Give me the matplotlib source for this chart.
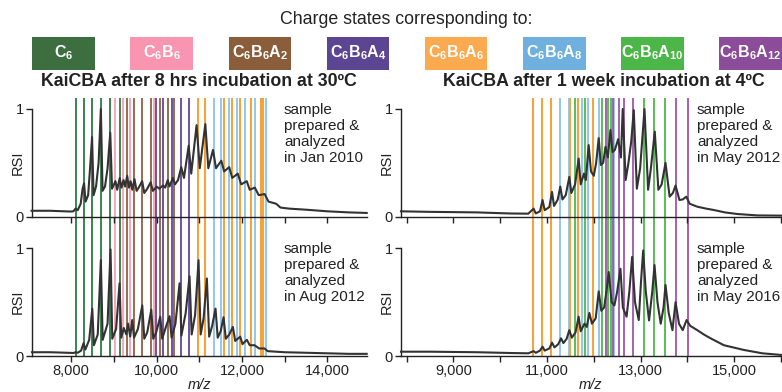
import matplotlib
matplotlib.use('Agg')
import matplotlib.pyplot as plt
from matplotlib.patches import Rectangle
from matplotlib.ticker import FixedLocator, StrMethodFormatter

plt.rcParams['font.family'] = ['Liberation Sans', 'DejaVu Sans']
plt.rcParams['mathtext.fontset'] = 'custom'
plt.rcParams['mathtext.rm'] = 'Liberation Sans'
plt.rcParams['mathtext.bf'] = 'Liberation Sans:bold'
plt.rcParams['mathtext.it'] = 'Liberation Sans:italic'

# legend / species
species = [r'$\mathbf{C_6}$', r'$\mathbf{C_6B_6}$', r'$\mathbf{C_6B_6A_2}$', r'$\mathbf{C_6B_6A_4}$',
           r'$\mathbf{C_6B_6A_6}$', r'$\mathbf{C_6B_6A_8}$', r'$\mathbf{C_6B_6A_{10}}$', r'$\mathbf{C_6B_6A_{12}}$']
box_colors = ['#3d6e3f', '#f995b0', '#8a5d3b', '#5c4593', '#fbaa4f', '#6fb0de', '#4db649', '#8b4c9a']
line_colors = ['#22753a', '#f79ab3', '#8b5a3c', '#5b3f98', '#f7941d', '#86c0ea', '#47b544', '#9a4fa8']

# charge state positions (m/z), left column (30 C, 8 hrs)
left_c6 = [8100, 8290, 8485, 8695, 8915, 9135]
left_c6b6 = [9030, 9220, 9380, 9930]
left_c6b6a2 = [9300, 9480, 9660, 9860, 10070, 10260, 10410]
left_c6b6a4 = [9990, 10145, 10350, 10570, 10760]
left_c6b6a6 = [10960, 11140, 11570, 11760, 11960, 12200, 12440, 12500]
left_c6b6a8 = [11335, 11515, 11700, 11880, 12070, 12300, 12560]

# charge state positions (m/z), right column (4 C, 1 week)
right_c6b6a6 = [10700, 10895, 11090, 11500, 11665, 11985]
right_c6b6a8 = [11285, 11460, 11750, 11870, 12105, 12440]
right_c6b6a10 = [11590, 11820, 12180, 12300, 12370, 13070, 13290, 13520]
right_c6b6a12 = [12250, 12410, 12535, 12655, 12835, 13750, 14010]

# spectra: Jan 2010
mz_tl = [7070, 7500, 7980, 8050, 8100, 8150, 8220, 8265, 8300, 8335, 8395, 8440, 8487, 8522, 8580,
         8640, 8693, 8733, 8790, 8850, 8913, 8955, 9000, 9035, 9075, 9135, 9175, 9225, 9260, 9310,
         9350, 9390, 9430, 9480, 9530, 9580, 9660, 9710, 9780, 9860, 9910, 9960, 10000, 10060, 10150,
         10200, 10260, 10300, 10380, 10430, 10500, 10576, 10640, 10750, 10810, 10935, 11010, 11140, 11210, 11320,
         11390, 11515, 11580, 11700, 11770, 11900, 11980, 12110, 12180, 12300, 12390, 12530, 12620, 12800, 12900,
         13100, 13500, 14000, 14500, 14920]
rsi_tl = [0.055, 0.055, 0.048, 0.05, 0.075, 0.06, 0.12, 0.26, 0.31, 0.14, 0.2, 0.45, 0.74, 0.2, 0.28,
          0.5, 1.0, 0.24, 0.28, 0.45, 0.78, 0.26, 0.3, 0.33, 0.25, 0.36, 0.27, 0.34, 0.28, 0.38,
          0.27, 0.33, 0.25, 0.35, 0.24, 0.27, 0.33, 0.22, 0.26, 0.32, 0.24, 0.26, 0.28, 0.26, 0.29,
          0.27, 0.34, 0.28, 0.36, 0.3, 0.34, 0.46, 0.36, 0.66, 0.4, 0.85, 0.45, 0.86, 0.45, 0.62,
          0.45, 0.52, 0.42, 0.46, 0.36, 0.40, 0.3, 0.33, 0.25, 0.27, 0.2, 0.21, 0.14, 0.12, 0.085,
          0.075, 0.065, 0.05, 0.04, 0.035]

# spectra: Aug 2012
mz_bl = [7080, 7500, 7900, 8050, 8100, 8150, 8230, 8288, 8330, 8420, 8492, 8530, 8620, 8693, 8735,
         8850, 8920, 8960, 9050, 9131, 9170, 9230, 9290, 9330, 9380, 9428, 9470, 9560, 9663, 9710,
         9780, 9874, 9920, 9990, 10084, 10130, 10200, 10302, 10350, 10440, 10536, 10580, 10680, 10770, 10820,
         10900, 10981, 11030, 11100, 11176, 11230, 11300, 11379, 11430, 11500, 11567, 11620, 11700, 11785, 11840,
         11900, 11958, 12010, 12060, 12113, 12180, 12293, 12400, 12527, 12600, 12800, 13000, 13500, 14000, 14500,
         14920]
rsi_bl = [0.035, 0.035, 0.03, 0.028, 0.035, 0.03, 0.05, 0.12, 0.06, 0.15, 0.44, 0.1, 0.2, 0.89, 0.15,
          0.3, 0.99, 0.16, 0.25, 0.675, 0.17, 0.26, 0.2, 0.3, 0.18, 0.334, 0.17, 0.25, 0.47, 0.16,
          0.22, 0.43, 0.16, 0.22, 0.365, 0.16, 0.25, 0.37, 0.17, 0.3, 0.675, 0.19, 0.4, 0.74, 0.2,
          0.38, 0.89, 0.2, 0.35, 0.72, 0.18, 0.28, 0.44, 0.17, 0.23, 0.36, 0.16, 0.2, 0.27, 0.14,
          0.16, 0.18, 0.11, 0.13, 0.15, 0.1, 0.1, 0.07, 0.07, 0.045, 0.04, 0.035, 0.03, 0.025, 0.02,
          0.02]

# spectra: May 2012
mz_tr = [7880, 8500, 9500, 10200, 10600, 10713, 10760, 10850, 10905, 10950, 11050, 11107, 11150, 11230, 11284,
         11330, 11400, 11477, 11520, 11600, 11676, 11720, 11790, 11830, 11890, 11940, 12000, 12050, 12105, 12150,
         12200, 12250, 12300, 12355, 12400, 12450, 12520, 12580, 12618, 12680, 12740, 12800, 12854, 12920, 12990,
         13083, 13160, 13220, 13303, 13380, 13450, 13532, 13620, 13690, 13747, 13830, 13900, 13976, 14050, 14211,
         14400, 14567, 14800, 15068, 15496, 16000]
rsi_tr = [0.05, 0.045, 0.04, 0.03, 0.028, 0.075, 0.03, 0.05, 0.155, 0.06, 0.09, 0.23, 0.1, 0.16, 0.28,
          0.16, 0.2, 0.37, 0.22, 0.3, 0.54, 0.3, 0.4, 0.34, 0.665, 0.42, 0.38, 0.5, 0.73, 0.48,
          0.5, 0.65, 0.55, 0.805, 0.6, 0.62, 0.72, 0.55, 1.0, 0.34, 0.5, 0.7, 0.99, 0.26, 0.45,
          1.0, 0.25, 0.45, 0.79, 0.25, 0.3, 0.5, 0.186, 0.22, 0.29, 0.155, 0.16, 0.186, 0.12, 0.093,
          0.075, 0.062, 0.04, 0.025, 0.012, 0.01]

# spectra: May 2016
mz_br = [7880, 8500, 9500, 10200, 10600, 10713, 10760, 10850, 10905, 10950, 11050, 11107, 11160, 11240, 11300,
         11350, 11420, 11477, 11530, 11610, 11676, 11720, 11800, 11850, 11905, 11960, 12040, 12105, 12160, 12220,
         12270, 12318, 12380, 12440, 12500, 12569, 12620, 12700, 12760, 12819, 12880, 12960, 13010, 13055, 13110,
         13180, 13250, 13297, 13360, 13430, 13490, 13532, 13600, 13680, 13747, 13820, 13900, 13982, 14060, 14211,
         14350, 14496, 14781, 15209, 15600, 16000]
rsi_br = [0.04, 0.04, 0.035, 0.028, 0.025, 0.045, 0.03, 0.05, 0.087, 0.05, 0.07, 0.124, 0.08, 0.11, 0.164,
          0.12, 0.16, 0.24, 0.17, 0.22, 0.365, 0.23, 0.3, 0.27, 0.4, 0.3, 0.35, 0.6, 0.42, 0.45,
          0.6, 0.78, 0.5, 0.47, 0.6, 0.81, 0.45, 0.365, 0.6, 0.92, 0.5, 0.334, 0.7, 0.98, 0.6,
          0.33, 0.6, 0.845, 0.5, 0.3, 0.45, 0.66, 0.4, 0.24, 0.5, 0.3, 0.24, 0.334, 0.28, 0.24,
          0.2, 0.164, 0.1, 0.056, 0.025, 0.01]

titles = ['KaiCBA after 8 hrs incubation at 30ºC', 'KaiCBA after 1 week incubation at 4ºC']
notes = [['sample\nprepared &\nanalyzed\nin Jan 2010', 'sample\nprepared &\nanalyzed\nin Aug 2012'],
         ['sample\nprepared &\nanalyzed\nin May 2012', 'sample\nprepared &\nanalyzed\nin May 2016']]
xlims = [(7080, 14920), (7880, 16000)]
major_ticks = [[8000, 10000, 12000, 14000], [9000, 11000, 13000, 15000]]
minor_ticks = [[9000, 11000, 13000], [8000, 10000, 12000, 14000, 16000]]

W, H = 782, 392
fig = plt.figure(figsize=(W / 100, H / 100), dpi=100)

# column geometry in pixels: (left, width)
cols = [(32, 334.7), (401, 380)]
rows = [216.7, 356]  # y pixel of the zero line, top then bottom
ph = 107.7
line_top = (356 - 98) / ph  # lines run from 0 of lower panel to above upper panel

left_lines = [left_c6, left_c6b6, left_c6b6a2, left_c6b6a4, left_c6b6a6, left_c6b6a8]
right_lines = [right_c6b6a6, right_c6b6a8, right_c6b6a10, right_c6b6a12]
col_lines = [list(zip(left_lines, line_colors[:6])), list(zip(right_lines, line_colors[4:]))]
spectra = [[(mz_tl, rsi_tl), (mz_bl, rsi_bl)], [(mz_tr, rsi_tr), (mz_br, rsi_br)]]

ink = '#222222'


def style(ax, c, labels):
    ax.set_xlim(*xlims[c])
    ax.set_ylim(0, 1)
    for s in ['top', 'right']:
        ax.spines[s].set_visible(False)
    for s in ['left', 'bottom']:
        ax.spines[s].set_linewidth(1.0)
        ax.spines[s].set_color(ink)
    ax.xaxis.set_major_locator(FixedLocator(major_ticks[c]))
    ax.xaxis.set_minor_locator(FixedLocator(minor_ticks[c]))
    ax.xaxis.set_major_formatter(StrMethodFormatter('{x:,.0f}'))
    ax.set_yticks([0, 1])
    ax.set_yticklabels(['0', '1'])
    ax.tick_params(which='both', direction='out', length=4, width=1.0, color=ink,
                   labelsize=10.5, pad=2, labelcolor=ink)
    if not labels:
        ax.tick_params(axis='x', labelbottom=False)
    ax.set_ylabel('RSI', fontsize=10.5, color=ink)
    ax.yaxis.set_label_coords(-7 / cols[c][1], 0.5)


for c in range(2):
    x0, w = cols[c]
    # lower panel first so the upper panel draws over the long lines
    axb = fig.add_axes([x0 / W, 1 - rows[1] / H, w / W, ph / H])
    axt = fig.add_axes([x0 / W, 1 - rows[0] / H, w / W, ph / H])
    axt.patch.set_alpha(0)
    for positions, color in col_lines[c]:
        axb.vlines(positions, 0, line_top, colors=color, linewidth=1.25, clip_on=False, zorder=1)
    for r, ax in enumerate([axt, axb]):
        mz, rsi = spectra[c][r]
        ax.plot(mz, rsi, color='#333333', linewidth=1.5, zorder=3, clip_on=False)
        ax.text((284 - x0 if c == 0 else 697 - x0) / w, 1.06, notes[c][r], transform=ax.transAxes,
                ha='left', va='top', fontsize=11, color=ink, linespacing=1.2)
        style(ax, c, labels=(r == 1))
    axb.set_xlabel('m/z', style='italic', fontsize=10.5, color=ink, labelpad=0)

# headers
fig.text(406 / W, 1 - 20 / H, 'Charge states corresponding to:', ha='center', va='center',
         fontsize=12.8, color=ink)
fig.text(199 / W, 1 - 82 / H, titles[0], ha='center', va='center', fontsize=12.8,
         fontweight='bold', color=ink)
fig.text(604 / W, 1 - 82 / H, titles[1], ha='center', va='center', fontsize=12.8,
         fontweight='bold', color=ink)

# legend boxes
for i, (lab, col) in enumerate(zip(species, box_colors)):
    bx = 32.3 + i * 98.14
    fig.add_artist(Rectangle((bx / W, 1 - 70 / H), 62.5 / W, 33 / H, transform=fig.transFigure,
                             facecolor=col, edgecolor='none'))
    fig.text((bx + 31.25) / W, 1 - 53 / H, lab, ha='center', va='center', fontsize=11.5, color='white')

fig.savefig('out.png', dpi=100)
